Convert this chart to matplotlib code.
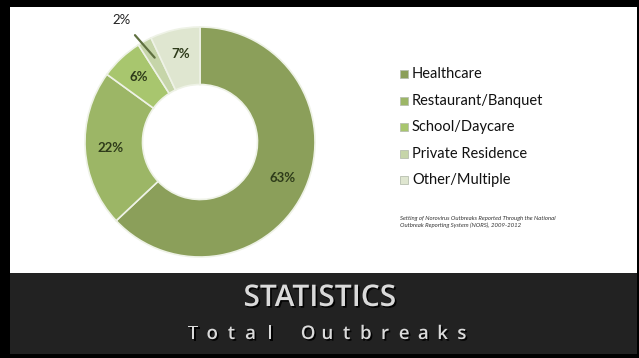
import matplotlib.pyplot as plt
import matplotlib.patheffects as pe
import numpy as np
from matplotlib.patches import Rectangle

# data
settings = ['Healthcare', 'Restaurant/Banquet', 'School/Daycare', 'Private Residence', 'Other/Multiple']
shares = [63, 22, 6, 2, 7]
colors = ['#8b9f5a', '#9cb666', '#a8c66e', '#c6d5a9', '#dfe6d0']
footnote = ('Setting of Norovirus Outbreaks Reported Through the National\n'
            'Outbreak Reporting System (NORS), 2009-2012')
title = 'STATISTICS'
subtitle = 'Total Outbreaks'

W, H = 639, 358
fig = plt.figure(figsize=(W / 100, H / 100), dpi=100)
fig.patch.set_facecolor('black')

# background axes in pixel coordinates
bg = fig.add_axes([0, 0, 1, 1])
bg.set_xlim(0, W)
bg.set_ylim(H, 0)
bg.axis('off')
bg.add_patch(Rectangle((10, 7), 627, 266, facecolor='white', edgecolor='none'))
bg.add_patch(Rectangle((10, 273), 627, 81, facecolor='#222222', edgecolor='none'))

# donut
cx, cy, r = 200, 142, 115
pax = fig.add_axes([(cx - r) / W, 1 - (cy + r) / H, 2 * r / W, 2 * r / H])
wedges, _ = pax.pie(shares, colors=colors, startangle=90, counterclock=False,
                    radius=1, wedgeprops=dict(width=0.5, edgecolor='#eef2e6', linewidth=1.2))
pax.set_xlim(-1, 1)
pax.set_ylim(-1, 1)
pax.set_aspect('equal')
pax.axis('off')

cum = np.cumsum([0] + shares)
for i, s in enumerate(shares):
    mid = np.deg2rad(90 - (cum[i] + s / 2) * 3.6)
    if s < 5:
        # small slice gets an outside label with leader line
        x0, y0 = 0.86 * np.cos(mid), 0.86 * np.sin(mid)
        pax.annotate(f'{s}%', xy=(x0 + 0.02, y0 - 0.02), xytext=(-0.68, 1.06),
                     fontsize=9.5, family='Lato', color='#222222', ha='center', va='center',
                     arrowprops=dict(arrowstyle='-', color='#5f7040', lw=1.6,
                                     shrinkA=6, shrinkB=0),
                     annotation_clip=False)
        continue
    pax.text(0.78 * np.cos(mid), 0.78 * np.sin(mid), f'{s}%', ha='center', va='center',
             fontsize=9.5, fontweight='bold', family='Lato', color='#2e3b1a')

# legend
for i, (name, c) in enumerate(zip(settings, colors)):
    y = 74 + i * 26.5
    bg.add_patch(Rectangle((400, y - 4), 8, 8, facecolor=c, edgecolor='#b8bfb0', linewidth=0.6))
    bg.text(412, y, name, fontsize=10.5, family='Lato', color='#111111', va='center', ha='left')

bg.text(400, 222, footnote, fontsize=4.3, family='Lato', style='italic',
        color='#333333', va='center', ha='left', linespacing=1.4)

# title band
shadow = [pe.withSimplePatchShadow(offset=(1.2, -1.2), shadow_rgbFace='black', alpha=0.9)]
bg.text(320, 298, title, fontsize=21.5, family='Open Sans', fontweight='semibold',
        color='#dadada', ha='center', va='center', path_effects=shadow)
# widely tracked subtitle: one glyph per slot
x0, pitch = 193, 19.2
for k, ch in enumerate(subtitle):
    bg.text(x0 + k * pitch, 334, ch, fontsize=13.5, family='Open Sans', fontweight='semibold',
            color='#dadada', ha='center', va='center', path_effects=shadow)

fig.savefig('out.png', dpi=100, facecolor='black')
